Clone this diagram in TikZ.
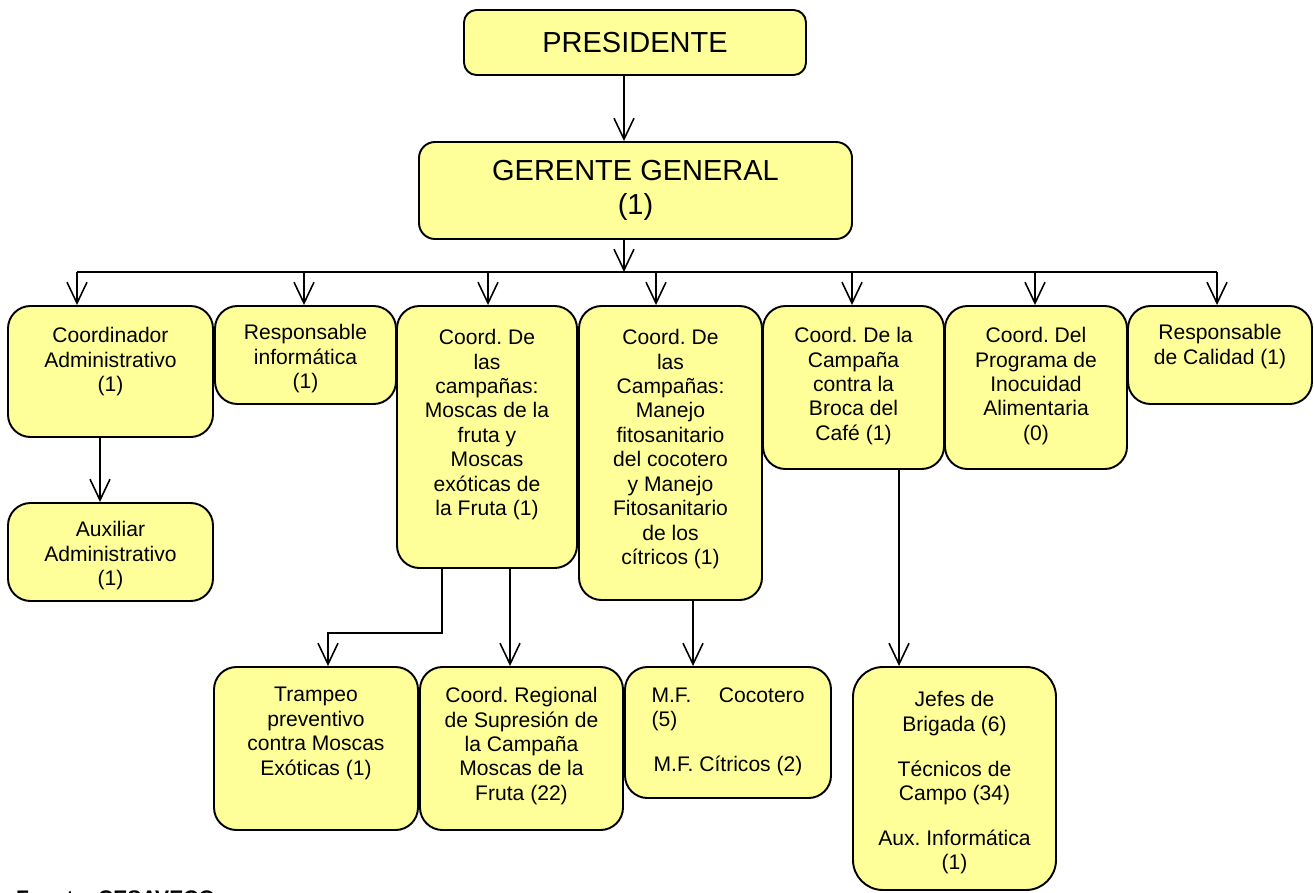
\documentclass[tikz,border=0pt]{standalone}
\usepackage{fontspec}
\setmainfont{Liberation Sans}
\usetikzlibrary{positioning,fit,arrows.meta}

\definecolor{boxyellow}{RGB}{255,255,153}
\frenchspacing

\tikzset{
    box/.style={draw, fill=boxyellow, line width=1.1pt, rounded corners=0.45cm, inner sep=0pt},
    txt/.style={align=center, inner sep=0pt, font=\fontsize{12}{13.9}\selectfont},
    bigtxt/.style={align=center, inner sep=0pt, font=\fontsize{16.5}{19.4}\selectfont},
    arr/.style={line width=0.9pt, -{Straight Barb[length=0.42cm,width=0.4cm]}},
    link/.style={line width=0.9pt},
}

\begin{document}
\begin{tikzpicture}[x=0.02cm, y=-0.02cm]
    \useasboundingbox (0,0) rectangle (1314,892);

    % top
    \node[box, rounded corners=0.25cm, fit={(464,10) (806,75)}] (pres) {};
    \node[box, rounded corners=0.32cm, fit={(419,142) (852,239)}] (ger) {};
    \node[bigtxt] (pres-t) at (pres.center) {PRESIDENTE};
    \node[bigtxt] (ger-t) at (ger.center) {GERENTE GENERAL\\(1)};

    % second row
    \node[box, fit={(8,306) (213,437)}] (ca) {};
    \node[box, fit={(215,306) (396,404)}] (ri) {};
    \node[box, fit={(397,306) (577,568)}] (mos) {};
    \node[box, fit={(579,306) (762,600)}] (man) {};
    \node[box, fit={(763,306) (944,469)}] (bro) {};
    \node[box, fit={(945,306) (1127,469)}] (ino) {};
    \node[box, fit={(1128,306) (1312,404)}] (cal) {};

    \node[txt, below=0.44cm of ca.north] (ca-t) {Coordinador\\Administrativo\\(1)};
    \node[txt, below=0.38cm of ri.north] (ri-t) {Responsable\\informática\\(1)};
    \node[txt, below=0.48cm of mos.north] (mos-t) {Coord. De\\las\\campañas:\\Moscas de la\\fruta y\\Moscas\\exóticas de\\la Fruta (1)};
    \node[txt, below=0.48cm of man.north] (man-t) {Coord. De\\las\\Campañas:\\Manejo\\fitosanitario\\del cocotero\\y Manejo\\Fitosanitario\\de los\\cítricos (1)};
    \node[txt, below=0.44cm of bro.north] (bro-t) {Coord. De la\\Campaña\\contra la\\Broca del\\Café (1)};
    \node[txt, below=0.44cm of ino.north] (ino-t) {Coord. Del\\Programa de\\Inocuidad\\Alimentaria\\(0)};
    \node[txt, below=0.38cm of cal.north] (cal-t) {Responsable\\de Calidad (1)};

    % lower rows
    \node[box, fit={(8,503) (213,601)}] (aux) {};
    \node[box, fit={(214,667) (418,830)}] (tram) {};
    \node[box, fit={(420,667) (623,830)}] (reg) {};
    \node[box, fit={(625,667) (831,798)}] (mf) {};
    \node[box, rounded corners=0.6cm, fit={(853,667) (1056,890)}] (jef) {};

    \node[txt, below=0.38cm of aux.north] (aux-t) {Auxiliar\\Administrativo\\(1)};
    \node[txt, below=0.42cm of tram.north] (tram-t) {Trampeo\\preventivo\\contra Moscas\\Exóticas (1)};
    \node[txt, below=0.42cm of reg.north] (reg-t) {Coord. Regional\\de Supresión de\\la Campaña\\Moscas de la\\Fruta (22)};
    \node[txt, below=0.42cm of mf.north] (mf-t) {\makebox[3.06cm]{M.F.\hfill Cocotero}\\\makebox[3.06cm][l]{(5)}\\[0.41cm]M.F. Cítricos (2)};
    \node[txt, below=0.5cm of jef.north] (jef-t) {Jefes de\\Brigada (6)\\[0.41cm]Técnicos de\\Campo (34)\\[0.41cm]Aux. Informática\\(1)};

    \node[anchor=base west, font=\fontsize{12}{14}\selectfont\bfseries] (src) at (10,905) {Fuente: CESAVECO};

    % connectors
    \draw[arr] ([xshift=-0.22cm]pres.south) -- ([xshift=-0.22cm]pres.south |- ger.north);
    \coordinate (hub) at (624,272);
    \draw[arr] (hub |- ger.south) -- (hub);
    \foreach \b/\x in {ca/77, ri/304, mos/488, man/656, bro/852, ino/1035, cal/1217} {
        \coordinate (d-\b) at (\x,272);
        \draw[arr] (d-\b) -- (d-\b |- \b.north);
    }
    \draw[link] (d-ca) -- (d-cal);

    \draw[arr] ([xshift=-0.21cm]ca.south) -- ([xshift=-0.21cm]ca.south |- aux.north);
    \coordinate (bend) at (442,633);
    \draw[arr] (bend |- mos.south) -- (bend) -| ([xshift=0.24cm]tram.north);
    \draw[arr] ([xshift=-0.23cm]reg.north |- mos.south) -- ([xshift=-0.23cm]reg.north);
    \draw[arr] ([xshift=-0.7cm]mf.north |- man.south) -- ([xshift=-0.7cm]mf.north);
    \draw[arr] ([xshift=-1.11cm]jef.north |- bro.south) -- ([xshift=-1.11cm]jef.north);
\end{tikzpicture}
\end{document}
